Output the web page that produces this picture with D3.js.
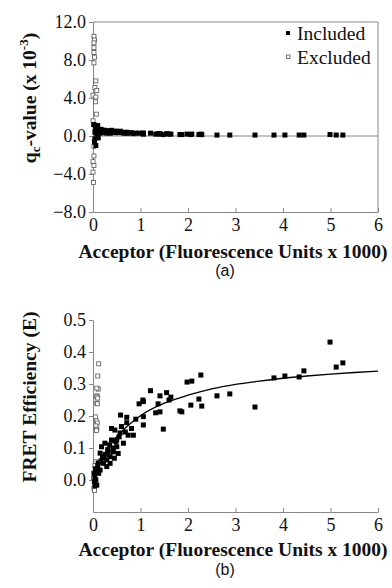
<!DOCTYPE html>
<html>
<head>
<meta charset="utf-8">
<script src="https://cdn.jsdelivr.net/npm/d3@7"></script>
<style>
  body { margin: 0; background: #fff; }
  svg { display: block; }
</style>
</head>
<body>
<div id="chart"></div>
<script>
// included points: acceptor (x 1000), FRET efficiency, qc-value (x 10^-3)
const acceptor = [0.02, 0.03, 0.04, 0.04, 0.05, 0.06, 0.08, 0.10, 0.11, 0.12,
  0.15, 0.15, 0.17, 0.18, 0.20, 0.22, 0.22, 0.25, 0.26, 0.29,
  0.29, 0.31, 0.32, 0.35, 0.36, 0.36, 0.39, 0.39, 0.42, 0.43,
  0.45, 0.46, 0.48, 0.50, 0.50, 0.53, 0.55, 0.57, 0.58, 0.60,
  0.64, 0.68, 0.71, 0.71, 0.74, 0.81, 0.85, 0.90, 0.97, 1.05,
  1.06, 1.06, 1.06, 1.21, 1.32, 1.37, 1.41, 1.41, 1.48, 1.55,
  1.60, 1.64, 1.83, 1.87, 1.98, 2.06, 2.08, 2.23, 2.27, 2.29,
  2.61, 2.88, 3.41, 3.81, 4.04, 4.34, 4.44, 4.99, 5.12, 5.26];
const efficiency = [0.021, -0.005, 0.010, -0.018, 0.035, 0.000, -0.016, 0.045, 0.053, 0.021,
  0.084, 0.031, 0.060, 0.104, 0.070, 0.073, 0.052, 0.115, 0.080, 0.063,
  0.042, 0.095, 0.088, 0.110, 0.073, 0.052, 0.125, 0.161, 0.100, 0.088,
  0.068, 0.156, 0.120, 0.125, 0.104, 0.083, 0.135, 0.147, 0.203, 0.167,
  0.115, 0.150, 0.196, 0.179, 0.140, 0.161, 0.140, 0.190, 0.238, 0.250,
  0.198, 0.172, 0.245, 0.279, 0.210, 0.238, 0.263, 0.213, 0.159, 0.273,
  0.250, 0.259, 0.216, 0.213, 0.306, 0.234, 0.309, 0.253, 0.328, 0.231,
  0.263, 0.269, 0.228, 0.319, 0.325, 0.322, 0.341, 0.431, 0.353, 0.366];
const qcValue = [1.2, -0.6, 0.4, -0.3, 0.7, -1.0, 0.2, 1.1, -0.2, 0.6,
  0.5, 0.3, 0.7, 0.55, 0.4, 0.6, 0.35, 0.6, 0.45, 0.5,
  0.3, 0.5, 0.45, 0.55, 0.35, 0.3, 0.5, 0.6, 0.45, 0.4,
  0.35, 0.5, 0.45, 0.5, 0.4, 0.35, 0.45, 0.4, 0.5, 0.4,
  0.3, 0.35, 0.4, 0.3, 0.3, 0.35, 0.25, 0.3, 0.3, 0.3,
  0.25, 0.2, 0.3, 0.3, 0.2, 0.25, 0.25, 0.2, 0.15, 0.25,
  0.2, 0.2, 0.15, 0.15, 0.2, 0.15, 0.2, 0.15, 0.2, 0.15,
  0.1, 0.1, 0.1, 0.1, 0.1, 0.1, 0.1, 0.15, 0.1, 0.1];

// excluded points, panel (a)
const exclQcX = [0.02, 0.03, 0.02, 0.02, 0.02, 0.03, 0.02, 0.06, 0.04, 0.08, 0.0,
  0.06, 0.05, 0.07, 0.0, 0.01, 0.02, 0.02, 0.0, 0.02, 0.0, 0.01];
const exclQc = [10.5, 10.1, 9.8, 9.3, 8.8, 8.3, 7.7, 5.8, 5.1, 4.8, 4.3,
  4.1, 3.6, 2.3, 1.6, 1.2, -1.1, -2.1, -2.7, -3.1, -3.8, -4.9];

// excluded points, panel (b)
const exclEffX = [0.12, 0.10, 0.11, 0.08, 0.09, 0.07, 0.10, 0.08, 0.09, 0.05,
  0.07, 0.09, 0.06, 0.08, 0.07, 0.06, 0.04, 0.02, 0.03, 0.01];
const exclEff = [0.363, 0.325, 0.284, 0.287, 0.263, 0.260, 0.256, 0.240, 0.238, 0.197,
  0.185, 0.178, 0.169, 0.159, 0.155, 0.057, 0.045, -0.026, -0.033, 0.005];

// fitted curve, panel (b)
const fitX = [0, 0.1, 0.2, 0.4, 0.6, 0.8, 1.0, 1.5, 2, 2.5, 3, 3.5, 4, 4.5, 5, 5.5, 6];
const fitE = [0, 0.037, 0.068, 0.117, 0.151, 0.178, 0.201, 0.240, 0.265, 0.285,
  0.299, 0.309, 0.318, 0.325, 0.331, 0.336, 0.340];

const xTicks = [0, 1, 2, 3, 4, 5, 6];
const qcTicks = [-8, -4, 0, 4, 8, 12];
const effTicks = [0, 0.1, 0.2, 0.3, 0.4, 0.5];

const W = 392, H = 588;
const axisColor = '#888';
const serif = '"Liberation Serif", "Times New Roman", serif';
const sans = '"Liberation Sans", Arial, sans-serif';

const svg = d3.select('#chart').append('svg')
    .attr('width', W)
    .attr('height', H);

svg.append('rect').attr('width', W).attr('height', H).attr('fill', '#fff');

const x = d3.scaleLinear().domain([0, 6]).range([93, 378]);

function filledSquares(g, xs, ys, yScale) {
    g.selectAll(null)
        .data(xs)
        .enter().append('rect')
        .attr('x', (d, i) => x(d) - 2.5)
        .attr('y', (d, i) => yScale(ys[i]) - 2.5)
        .attr('width', 5)
        .attr('height', 5)
        .attr('fill', '#000');
}

function openSquares(g, xs, ys, yScale) {
    g.selectAll(null)
        .data(xs)
        .enter().append('rect')
        .attr('x', (d, i) => x(d) - 2)
        .attr('y', (d, i) => yScale(ys[i]) - 2)
        .attr('width', 4)
        .attr('height', 4)
        .attr('fill', '#fff')
        .attr('stroke', '#555')
        .attr('stroke-width', 0.8);
}

function styleAxis(g) {
    g.attr('font-family', serif).attr('font-size', 18);
    g.selectAll('.domain').attr('stroke', axisColor);
    g.selectAll('.tick line').attr('stroke', axisColor);
    g.selectAll('.tick text').attr('fill', '#111');
}

function boldText(g, str, tx, ty, rotate) {
    return g.append('text')
        .attr('transform', `translate(${tx},${ty})` + (rotate ? ' rotate(-90)' : ''))
        .attr('text-anchor', 'middle')
        .attr('font-family', serif).attr('font-weight', 'bold').attr('font-size', 19.5)
        .attr('fill', '#111')
        .text(str);
}

// ---------- panel (a) ----------
const yA = d3.scaleLinear().domain([-8, 12]).range([212, 22]);
const gA = svg.append('g');

// frame top and right
gA.append('path')
    .attr('d', `M${x(0)},${yA(12)}H${x(6)}V${yA(-8)}`)
    .attr('fill', 'none')
    .attr('stroke', axisColor);

// zero line
gA.append('line')
    .attr('x1', x(0)).attr('x2', x(6))
    .attr('y1', yA(0)).attr('y2', yA(0))
    .attr('stroke', axisColor);

gA.append('g')
    .attr('transform', `translate(0,${yA(-8)})`)
    .call(d3.axisBottom(x).tickValues(xTicks).tickFormat(d3.format('d')).tickSizeInner(-4).tickSizeOuter(0).tickPadding(6))
    .call(styleAxis);

gA.append('g')
    .attr('transform', `translate(${x(0)},0)`)
    .call(d3.axisLeft(yA).tickValues(qcTicks).tickFormat(d3.format('.1f')).tickSizeInner(4).tickSizeOuter(0).tickPadding(3))
    .call(styleAxis);

openSquares(gA, exclQcX, exclQc, yA);
filledSquares(gA, acceptor, qcValue, yA);

// legend
gA.append('rect').attr('x', 286).attr('y', 31).attr('width', 4).attr('height', 4).attr('fill', '#000');
gA.append('rect').attr('x', 286.5).attr('y', 55).attr('width', 3.5).attr('height', 3.5)
    .attr('fill', '#fff').attr('stroke', '#555').attr('stroke-width', 0.8);
gA.append('text').attr('x', 297).attr('y', 40).text('Included')
    .attr('font-family', serif).attr('font-size', 19.5).attr('fill', '#111');
gA.append('text').attr('x', 297).attr('y', 64).text('Excluded')
    .attr('font-family', serif).attr('font-size', 19.5).attr('fill', '#111');

// y title
const tA = boldText(gA, null, 36, 98, true);
tA.append('tspan').text('q');
tA.append('tspan').attr('font-size', 13).attr('dy', 4).text('c');
tA.append('tspan').attr('dy', -4).text('-value (x 10');
tA.append('tspan').attr('font-size', 13).attr('dy', -8).text('-3');
tA.append('tspan').attr('dy', 8).text(')');

boldText(gA, 'Acceptor (Fluorescence Units x 1000)', 233, 258, false);
gA.append('text').attr('x', 225).attr('y', 276).attr('text-anchor', 'middle')
    .attr('font-family', sans).attr('font-size', 16).attr('fill', '#111')
    .text('(a)');

// ---------- panel (b) ----------
const yB = d3.scaleLinear().domain([-0.1, 0.5]).range([512, 320]);
const gB = svg.append('g');

gB.append('g')
    .attr('transform', `translate(0,${yB(-0.1)})`)
    .call(d3.axisBottom(x).tickValues(xTicks).tickFormat(d3.format('d')).tickSizeInner(-4).tickSizeOuter(0).tickPadding(6))
    .call(styleAxis);

gB.append('g')
    .attr('transform', `translate(${x(0)},0)`)
    .call(d3.axisLeft(yB).tickValues(effTicks).tickFormat(d3.format('.1f')).tickSizeInner(4).tickSizeOuter(0).tickPadding(3))
    .call(styleAxis);

openSquares(gB, exclEffX, exclEff, yB);
filledSquares(gB, acceptor, efficiency, yB);

const line = d3.line()
    .x((d, i) => x(d))
    .y((d, i) => yB(fitE[i]))
    .curve(d3.curveMonotoneX);

gB.append('path')
    .attr('d', line(fitX))
    .attr('fill', 'none')
    .attr('stroke', '#000')
    .attr('stroke-width', 1.3);

boldText(gB, 'FRET Efficiency (E)', 36, 397, true);
boldText(gB, 'Acceptor (Fluorescence Units x 1000)', 233, 556, false);
gB.append('text').attr('x', 225).attr('y', 575).attr('text-anchor', 'middle')
    .attr('font-family', sans).attr('font-size', 16).attr('fill', '#111')
    .text('(b)');
</script>
</body>
</html>
